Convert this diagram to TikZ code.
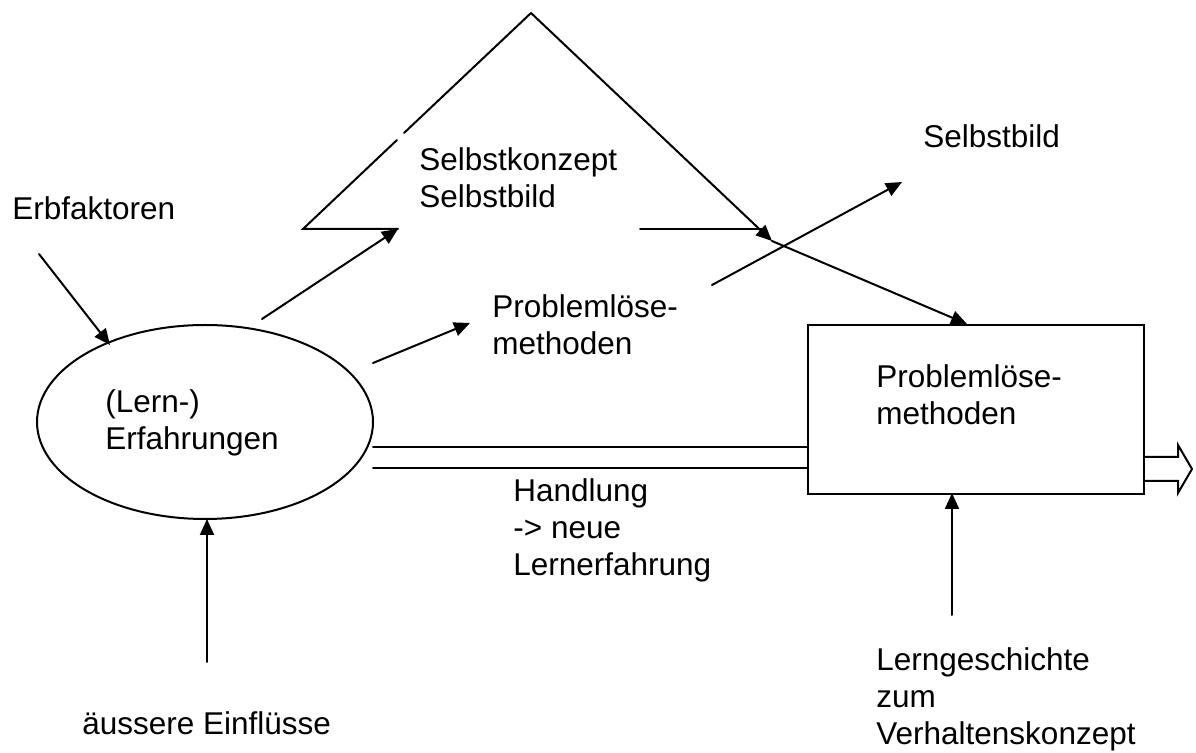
\documentclass[tikz,border=0pt]{standalone}
\usepackage{fontspec}
\setmainfont{Liberation Sans}
\usetikzlibrary{arrows.meta,shapes.geometric}
\tikzset{
  lbl/.style={anchor=base west, inner sep=0pt, align=left, font=\fontsize{15.75pt}{18.5pt}\selectfont},
  ln/.style={line width=1pt, line cap=round},
  arr/.style={ln, -{Triangle[length=8pt,width=7pt]}},
}
\begin{document}
\begin{tikzpicture}[x=0.5pt,y=-0.5pt]
\useasboundingbox (0,0) rectangle (1196,753);
% shapes
\node[ellipse, draw, line width=1pt, minimum width=336*0.5pt, minimum height=194*0.5pt, inner sep=0pt] (erf) at (205,422) {};
\node[draw, line width=1pt, minimum width=336*0.5pt, minimum height=169*0.5pt, inner sep=0pt, anchor=north west] (box) at (807,324) {};
% texts (anchor at baseline of last line)
\node[lbl] (erb) at (12,220) {Erbfaktoren};
\node[lbl] (sk) at (419,208) {Selbstkonzept\\Selbstbild};
\node[lbl] (sb) at (923,148) {Selbstbild};
\node[lbl] (plm) at (492,355) {Problemlöse-\\methoden};
\node[lbl] (plb) at (876,425) {Problemlöse-\\methoden};
\node[lbl] (le) at (105,450) {(Lern-)\\Erfahrungen};
\node[lbl] (hd) at (513,576) {Handlung\\-> neue\\Lernerfahrung};
\node[lbl] (ae) at (82,735) {äussere Einflüsse};
\node[lbl] (lg) at (876,745) {Lerngeschichte\\zum\\Verhaltenskonzept};
% coordinates
\coordinate (apex) at (531,13);
\coordinate (tl) at (303,229);
\coordinate (tb) at (398,229);
\coordinate (g1) at (397,140);
\coordinate (g2) at (404,133);
\coordinate (tr) at (772,241);
\coordinate (hl) at (640,229);
\coordinate (hr) at (762,229);
\coordinate (bt) at (967,324);
\coordinate (e1) at (39,254);
\coordinate (e1t) at (110,345);
\coordinate (e2) at (262,319);
\coordinate (e3) at (373,363);
\coordinate (e3t) at (470,323);
\coordinate (x1) at (712,285);
\coordinate (x1t) at (902,182);
\coordinate (d1a) at (373,447);
\coordinate (d1b) at (807,447);
\coordinate (d2a) at (373,468);
\coordinate (d2b) at (807,468);
\coordinate (b1) at (207,662);
\coordinate (b1t) at (207,519);
\coordinate (b2) at (952,615);
\coordinate (b2t) at (952,493);
% triangle
\draw[ln] (g1) -- (tl) -- (tb);
\draw[ln] (g2) -- (apex);
\draw[arr] (apex) -- (tr);
\draw[ln] (hl) -- (hr);
\draw[arr] (tr) -- (bt);
% arrows
\draw[arr] (e1) -- (e1t);
\draw[arr] (e2) -- (tb);
\draw[arr] (e3) -- (e3t);
\draw[arr] (x1) -- (x1t);
\draw[arr] (b1) -- (b1t);
\draw[arr] (b2) -- (b2t);
% double line
\draw[ln] (d1a) -- (d1b);
\draw[ln] (d2a) -- (d2b);
% hollow output arrow
\draw[line width=1pt, line join=miter] (1143,457) -- (1178,457) -- (1178,445) -- (1192,469) -- (1178,493) -- (1178,481) -- (1143,481);
\end{tikzpicture}
\end{document}
